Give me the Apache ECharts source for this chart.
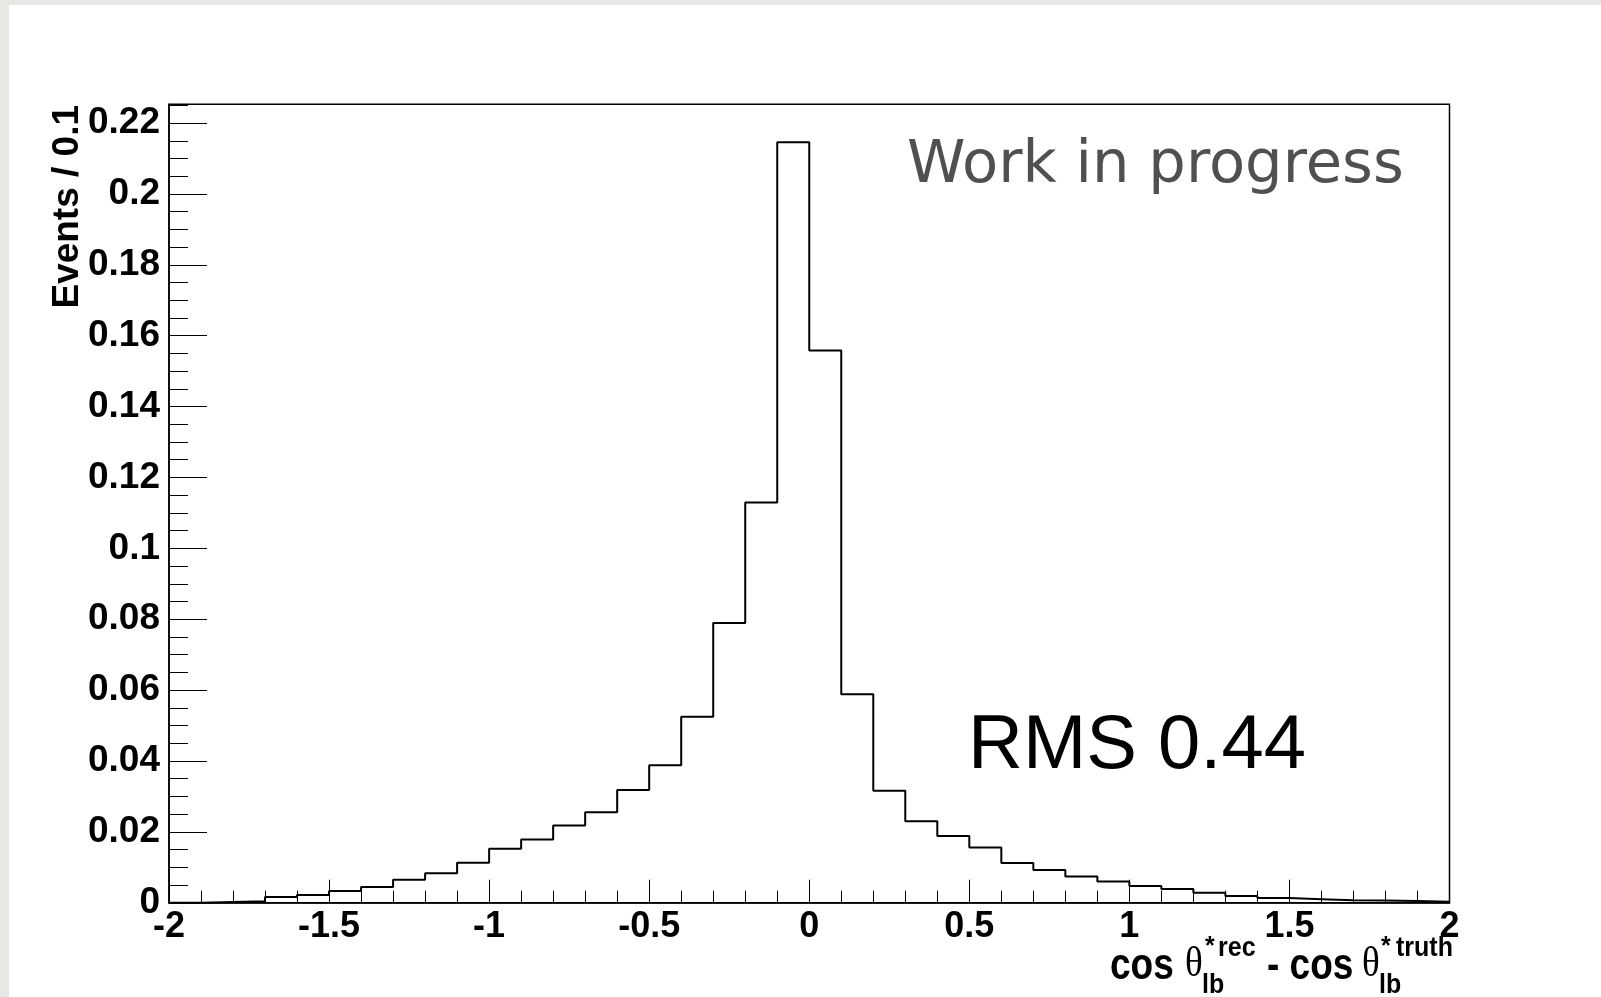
<!DOCTYPE html>
<html><head><meta charset="utf-8">
<script src="https://cdn.jsdelivr.net/npm/echarts@6/dist/echarts.min.js"></script>
<style>
html,body{margin:0;padding:0;width:1601px;height:997px;background:#e7e7e4;overflow:hidden}
#chart{position:absolute;left:9px;top:5px;width:1592px;height:992px;background:#fff}
</style></head><body><div id="chart"></div>
<script>
// Bin edges (41 edges -> 40 bins of width 0.1)
const binEdges = [-2.0,-1.9,-1.8,-1.7,-1.6,-1.5,-1.4,-1.3,-1.2,-1.1,-1.0,-0.9,-0.8,-0.7,-0.6,-0.5,-0.4,-0.3,-0.2,-0.1,
  0.0,0.1,0.2,0.3,0.4,0.5,0.6,0.7,0.8,0.9,1.0,1.1,1.2,1.3,1.4,1.5,1.6,1.7,1.8,1.9,2.0];
// Normalised events per bin
const eventsPerBin = [0.0000,0.0002,0.0004,0.0016,0.0022,0.0033,0.0044,0.0065,0.0083,0.0113,
  0.0152,0.0178,0.0218,0.0255,0.0318,0.0388,0.0525,0.0789,0.1129,0.2146,
  0.1558,0.0588,0.0316,0.0230,0.0188,0.0156,0.0112,0.0092,0.0074,0.0060,
  0.0047,0.0039,0.0028,0.0019,0.0013,0.0010,0.0007,0.0006,0.0005,0.0003];
const xTickLabels = ['-2','-1.5','-1','-0.5','0','0.5','1','1.5','2'];
const yTickLabels = ['0','0.02','0.04','0.06','0.08','0.1','0.12','0.14','0.16','0.18','0.2','0.22'];
const yTitle = 'Events / 0.1';
const watermark = 'Work in progress';
const rmsText = 'RMS 0.44';

const stepData = eventsPerBin.map((v, i) => [binEdges[i], v]);
stepData.push([binEdges[binEdges.length - 1], eventsPerBin[eventsPerBin.length - 1]]);

const FONT = '"Liberation Sans", Arial, Helvetica, sans-serif';
const chart = echarts.init(document.getElementById('chart'), null, {renderer: 'canvas'});

const yBase = {
  type: 'value', min: 0, max: 0.2253, position: 'left',
  splitLine: {show: false}, minorSplitLine: {show: false}
};

function t(x, y, text, font, sy) {
  return {type: 'text', x: x, y: y, scaleY: sy || 1,
    style: {text: text, font: font, fill: '#000', align: 'left', verticalAlign: 'middle'}};
}
const BIG = 'bold 37px ' + FONT, SMALL = 'bold 25px ' + FONT, TH = '37px "Liberation Serif", serif';

chart.setOption({
  animation: false,
  backgroundColor: '#fff',
  grid: {left: 160, right: 151.5, top: 99.3, bottom: 94.3, show: true,
         borderColor: '#000', borderWidth: 1.5, backgroundColor: 'transparent',
         containLabel: false, outerBoundsMode: 'none'},
  xAxis: {
    type: 'value', min: -2, max: 2, interval: 0.5, position: 'bottom',
    axisLine: {show: true, onZero: false, lineStyle: {color: '#000', width: 1.5}},
    axisTick: {show: true, inside: true, length: 23, lineStyle: {color: '#000', width: 1}},
    minorTick: {show: true, splitNumber: 5, length: 12, lineStyle: {color: '#000', width: 1}},
    splitLine: {show: false}, minorSplitLine: {show: false},
    axisLabel: {margin: 6, fontSize: 36, fontWeight: 'bold', color: '#000', fontFamily: FONT,
      formatter: (v, i) => xTickLabels[i] !== undefined ? xTickLabels[i] : ''}
  },
  yAxis: [
    Object.assign({}, yBase, {
      interval: 0.02,
      axisLine: {show: true, onZero: false, lineStyle: {color: '#000', width: 1.5}},
      axisTick: {show: true, inside: true, length: 38, lineStyle: {color: '#000', width: 1}},
      axisLabel: {margin: 9, fontSize: 37, fontWeight: 'bold', color: '#000', fontFamily: FONT,
        padding: [7, 0, 0, 0],
        formatter: (v, i) => yTickLabels[i] !== undefined ? yTickLabels[i] : ''}
    }),
    Object.assign({}, yBase, {
      interval: 0.005,
      axisLine: {show: false, onZero: false},
      axisTick: {show: true, inside: true, length: 19, lineStyle: {color: '#000', width: 1}},
      axisLabel: {show: false}
    })
  ],
  series: [{
    type: 'line', xAxisIndex: 0, yAxisIndex: 0, step: 'end', symbol: 'none',
    data: stepData, lineStyle: {color: '#000', width: 2}, clip: false
  }],
  graphic: [
    {type: 'text', x: 59, y: 100, rotation: Math.PI / 2,
     style: {text: yTitle, font: 'bold 37px ' + FONT, fill: '#000', align: 'right', verticalAlign: 'middle'}},
    {type: 'text', x: 898, y: 162, scaleX: 1.02,
     style: {text: watermark, font: '58px "DejaVu Sans", Verdana, sans-serif', fill: '#505050', align: 'left', verticalAlign: 'middle'}},
    {type: 'text', x: 959, y: 742,
     style: {text: rmsText, font: '76px ' + FONT, fill: '#000', align: 'left', verticalAlign: 'middle'}},
    // x-axis title: cos θ*_lb^rec - cos θ*_lb^truth
    t(1101, 962, 'cos', BIG, 1.2),
    t(1176, 960, 'θ', TH, 1.15),
    t(1196, 942, '*', SMALL),
    t(1209, 943, 'rec', SMALL, 1.1),
    t(1193, 980, 'lb', SMALL, 1.1),
    t(1258, 962, '- cos', BIG, 1.2),
    t(1353, 960, 'θ', TH, 1.15),
    t(1372, 942, '*', SMALL),
    t(1387, 943, 'truth', SMALL, 1.1),
    t(1370, 980, 'lb', SMALL, 1.1)
  ]
});
</script></body></html>
